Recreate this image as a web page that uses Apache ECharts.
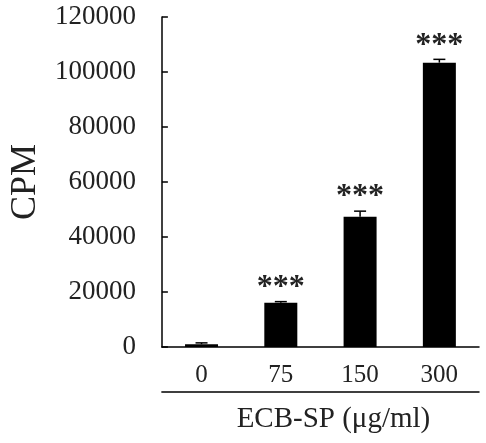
<!DOCTYPE html>
<html>
<head>
<meta charset="utf-8">
<script src="https://cdn.jsdelivr.net/npm/echarts@6/dist/echarts.min.js"></script>
<style>html,body{margin:0;padding:0;background:#fff}#c{width:486px;height:443px}</style>
</head>
<body>
<div id="c"></div>
<script>
var categories = ['0', '75', '150', '300'];
var cpmValues = [1000, 16100, 47400, 103400];
var cpmErrors = [500, 400, 2000, 1200];
var significance = ['', '***', '***', '***'];
var yTicks = { min: 0, max: 120000, interval: 20000 };

var font = 'Liberation Serif';
var chart = echarts.init(document.getElementById('c'));
var errData = categories.map(function (c, i) { return [i, cpmValues[i], cpmErrors[i], significance[i]]; });

chart.setOption({
  animation: false,
  grid: { left: 154, right: 7, top: 17, bottom: 96, containLabel: false },
  xAxis: [{
    type: 'category',
    data: categories,
    axisLine: { lineStyle: { color: '#000', width: 1.5 } },
    axisTick: { inside: true, length: 7, lineStyle: { color: '#000', width: 1.5 } },
    axisLabel: { fontFamily: font, fontSize: 25, color: '#222', margin: 16 }
  }, {
    type: 'category',
    data: categories,
    position: 'bottom',
    offset: 45,
    axisLine: { show: true, lineStyle: { color: '#000', width: 1.5 } },
    axisTick: { show: false },
    axisLabel: { show: false },
    name: 'ECB-SP (\u03bcg/ml)',
    nameLocation: 'middle',
    nameGap: 13,
    nameTextStyle: { fontFamily: font, fontSize: 29, color: '#222', padding: [0, 0, 0, 26] }
  }],
  yAxis: {
    type: 'value',
    min: yTicks.min, max: yTicks.max, interval: yTicks.interval,
    name: 'CPM',
    nameLocation: 'middle',
    nameRotate: 90,
    nameGap: 113,
    nameTextStyle: { fontFamily: font, fontSize: 36, color: '#222' },
    axisLine: { show: true, lineStyle: { color: '#000', width: 1.5 } },
    axisTick: { show: true, inside: true, length: 6, lineStyle: { color: '#000', width: 1.5 } },
    splitLine: { show: false },
    axisLabel: { fontFamily: font, fontSize: 27, color: '#222', margin: 26, formatter: function (v) { return String(v); } }
  },
  series: [{
    type: 'bar',
    data: cpmValues,
    barWidth: 33,
    itemStyle: { color: '#000' }
  }, {
    type: 'custom',
    data: errData,
    z: 5,
    renderItem: function (params, api) {
      var x = api.value(0), v = api.value(1), e = api.value(2);
      var top = api.coord([x, v + e]);
      var mid = api.coord([x, v]);
      var hw = 6;
      var children = [
        { type: 'line', shape: { x1: top[0], y1: top[1], x2: mid[0], y2: mid[1] }, style: { stroke: '#000', lineWidth: 1.5 } },
        { type: 'line', shape: { x1: top[0] - hw, y1: top[1], x2: top[0] + hw, y2: top[1] }, style: { stroke: '#000', lineWidth: 1.5 } }
      ];
      var s = errData[params.dataIndex][3];
      if (s) {
        children.push({ type: 'text', style: { text: s, x: top[0], y: top[1] - 14, align: 'center', verticalAlign: 'middle', fontFamily: font, fontSize: 32, fontWeight: 'bold', fill: '#222' } });
      }
      return { type: 'group', children: children };
    }
  }]
});
</script>
</body>
</html>
